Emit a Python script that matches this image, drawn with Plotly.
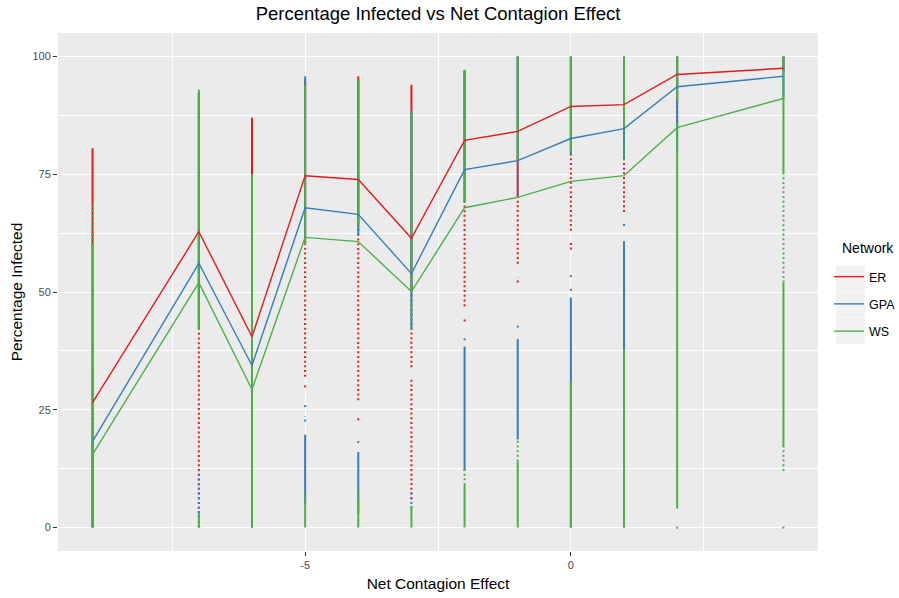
import plotly.graph_objects as go

# Net contagion effect levels
x_vals = [-9, -7, -6, -5, -4, -3, -2, -1, 0, 1, 2, 4]

# Mean percentage infected per network
mean_er = [26.5, 62.8, 40.5, 74.7, 73.9, 61.4, 82.2, 84.1, 89.4, 89.8, 96.2, 97.5]
mean_gpa = [18.3, 56.1, 34.4, 67.9, 66.5, 53.9, 76.0, 77.9, 82.6, 84.7, 93.6, 95.8]
mean_ws = [15.5, 52.0, 29.3, 61.6, 60.7, 50.1, 67.9, 70.1, 73.5, 74.7, 84.9, 91.1]

# Observed runs: (x, low, high) spans of percentage infected.
# "dense" spans are packed with runs, "sparse" spans hold scattered runs.
er_dense = [(-9, 0, 80.5), (-7, 42, 92.3), (-6, 0, 87), (-5, 60, 94.8), (-4, 64, 95.8),
            (-3, 50, 94), (-2, 69, 97), (-1, 70, 100), (0, 80, 100), (1, 78, 100),
            (2, 90, 100), (4, 97, 100)]
er_sparse = [(-7, 0, 42), (-5, 30, 30), (-5, 32, 60), (-4, 23, 23), (-4, 27, 64),
             (-3, 6, 31.5), (-3, 34, 50), (-2, 44, 44), (-2, 47, 69), (-1, 52, 53),
             (-1, 56, 70), (0, 59, 61), (0, 63, 80), (1, 67, 78), (2, 86, 90)]

gpa_dense = [(-9, 0, 18), (-7, 44, 92), (-6, 0, 74), (-5, 5, 19.7), (-5, 62, 95.8),
             (-4, 3, 16), (-4, 62, 95), (-3, 42, 88.5), (-2, 12, 38.4), (-2, 76, 97),
             (-1, 18.7, 40), (-1, 78, 100), (0, 0, 48.8), (0, 79, 100), (1, 0, 60.8),
             (1, 78, 100), (2, 80, 100), (4, 91, 100)]
gpa_sparse = [(-9, 18, 33), (-9, 60, 62), (-7, 3, 12), (-5, 22.5, 23.6), (-5, 25.8, 25.8),
              (-4, 18.2, 18.2), (-3, 4, 8), (-2, 40, 40), (-2, 69, 76), (-1, 42.7, 42.7),
              (-1, 70, 78), (0, 50.5, 50.5), (0, 53.4, 53.4), (1, 64, 65)]

ws_dense = [(-9, 0, 60), (-7, 0, 3), (-7, 42, 93), (-6, 0, 75), (-5, 0, 5), (-5, 60, 94),
            (-4, 0, 6), (-4, 64, 95), (-3, 0, 4.5), (-3, 50, 88.5), (-2, 0, 9), (-2, 69, 97.2),
            (-1, 0, 14), (-1, 78, 100), (0, 0, 31), (0, 80, 100), (1, 0, 38), (1, 85, 100),
            (2, 4, 86), (2, 90.5, 100), (4, 17, 52), (4, 75, 100)]
ws_sparse = [(-9, 60, 69), (-5, 5, 8), (-4, 6, 9), (-3, 42, 50), (-2, 9, 13), (-1, 14, 19),
             (1, 78, 85), (2, 0, 0), (4, 52, 75), (4, 12, 17), (4, 0, 0)]

networks = ["ER", "GPA", "WS"]
colors = {"ER": "#E41A1C", "GPA": "#377EB8", "WS": "#4DAF4A"}

W, H = 899, 598
M = dict(l=58, r=81, t=33, b=47)


def spans_to_xy(spans):
    xs, ys = [], []
    for x, lo, hi in spans:
        if hi - lo < 0.4:
            lo, hi = lo - 0.25, hi + 0.25
        xs += [x, x, None]
        ys += [lo, hi, None]
    return xs, ys


def px_x(p):
    return (p - M["l"]) / (W - M["l"] - M["r"])


def px_y(p):
    return 1 - (p - M["t"]) / (H - M["t"] - M["b"])


fig = go.Figure()

run_sets = [
    ("ER", er_dense, er_sparse),
    ("GPA", gpa_dense, gpa_sparse),
    ("WS", ws_dense, ws_sparse),
]
for name, dense, sparse in run_sets:
    xs, ys = spans_to_xy(sparse)
    fig.add_trace(go.Scatter(x=xs, y=ys, mode="lines", showlegend=False, hoverinfo="skip",
                             line=dict(color=colors[name], width=2.0, dash="2px,2.7px")))
    xs, ys = spans_to_xy(dense)
    fig.add_trace(go.Scatter(x=xs, y=ys, mode="lines", showlegend=False, hoverinfo="skip",
                             line=dict(color=colors[name], width=2.0)))

for name, means in zip(networks, [mean_er, mean_gpa, mean_ws]):
    fig.add_trace(go.Scatter(x=x_vals, y=means, mode="lines", name=name, legendgroup=name,
                             line=dict(color=colors[name], width=1.4)))

# grey key backgrounds behind the legend entries
for top, bot in [(265.5, 291), (291.5, 317.5), (318, 344)]:
    fig.add_shape(type="rect", xref="paper", yref="paper", layer="above",
                  x0=px_x(836), x1=px_x(865), y0=px_y(bot), y1=px_y(top),
                  fillcolor="#F2F2F2", line=dict(width=0))

axis_common = dict(
    showgrid=True, gridcolor="white", gridwidth=1.1, zeroline=False,
    ticks="outside", ticklen=4, tickcolor="#333333", tickwidth=1,
    tickfont=dict(size=11, color="#4D4D4D"), showline=False,
)

fig.update_layout(
    width=W, height=H,
    margin=dict(M, autoexpand=False),
    paper_bgcolor="white", plot_bgcolor="#EBEBEB",
    font=dict(family="Liberation Sans, Arial, sans-serif", color="black"),
    title=dict(text="Percentage Infected vs Net Contagion Effect", x=0.5, xref="paper",
               xanchor="center", y=1 - 14 / H, yref="container", yanchor="middle",
               font=dict(size=18.5, color="black")),
    xaxis=dict(axis_common, range=[-9.65, 4.65], tickvals=[-5, 0], ticktext=["-5", "0"],
               minor=dict(tick0=0, dtick=2.5, showgrid=True, gridcolor="white", gridwidth=0.5,
                          ticks=""),
               title=dict(text="Net Contagion Effect", font=dict(size=15.5), standoff=7)),
    yaxis=dict(axis_common, range=[-5, 105], tickvals=[0, 25, 50, 75, 100],
               minor=dict(tick0=0, dtick=12.5, showgrid=True, gridcolor="white", gridwidth=0.5,
                          ticks=""),
               title=dict(text="Percentage Infected", font=dict(size=15.5), standoff=6)),
    legend=dict(x=px_x(829), y=px_y(262), xanchor="left", yanchor="top",
                bgcolor="rgba(0,0,0,0)", font=dict(size=12.5), tracegroupgap=8),
    annotations=[dict(text="Network", xref="paper", yref="paper", x=px_x(840), y=px_y(248),
                      xanchor="left", yanchor="middle", showarrow=False,
                      font=dict(size=14, color="black"))],
)

fig.write_html("out.html")
